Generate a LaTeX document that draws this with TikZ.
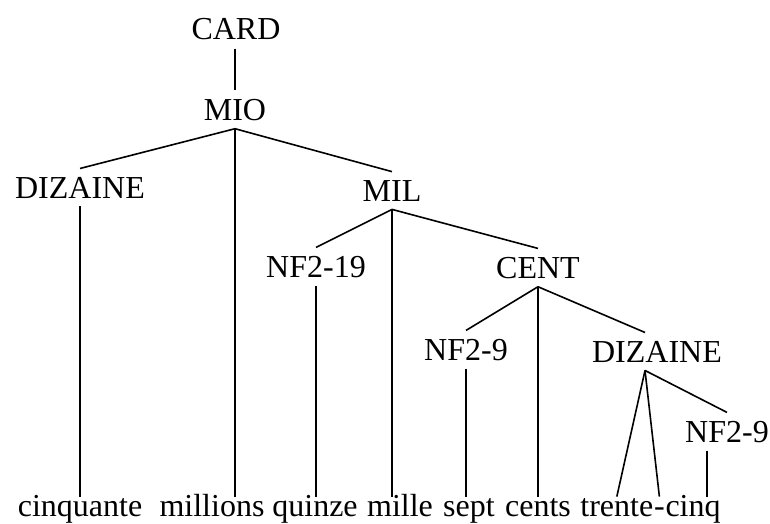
\documentclass[tikz,border=0pt]{standalone}
\usepackage{fontspec}
\setmainfont{Liberation Serif}
\usetikzlibrary{positioning,calc}

\begin{document}
\begin{tikzpicture}[
  x=0.5pt, y=-0.5pt,
  font=\fontsize{16}{19}\selectfont,
  cat/.style={anchor=base, inner sep=4pt},
  word/.style={anchor=base, inner xsep=0pt, inner ysep=2.5pt,
               text height=0.7em, text depth=0.22em},
  branch/.style={line width=0.8pt},
]
\useasboundingbox (0,0) rectangle (770,524);

% --- categories ---
\node[cat] (card) at (236,40)  {CARD};
\node[cat] (mio)  at (235,120) {MIO};
\node[cat] (dizA) at (80,198)  {DIZAINE};
\node[cat] (mil)  at (392,201) {MIL};
\node[cat] (nfA)  at (316,277) {NF2-19};
\node[cat] (cent) at (538,278) {CENT};
\node[cat] (nfB)  at (466,360) {NF2-9};
\node[cat] (dizB) at (657,362) {DIZAINE};
\node[cat] (nfC)  at (727,442) {NF2-9};

% --- words of the number ---
\node[word] (cinquante) at (80,516)  {cinquante};
\node[word] (millions)  at (212,516) {millions};
\node[word] (quinze)    at (315,516) {quinze};
\node[word] (mille)     at (400,516) {mille};
\node[word] (sept)      at (469,516) {sept};
\node[word] (cents)     at (538,516) {cents};
\node[word, anchor=base west] (trente) at (580,516) {trente};
\node[word, anchor=base west] (hyph) at (trente.base east) {-};
\node[word, anchor=base west] (cinq) at (hyph.base east) {cinq};

% --- branches ---
\draw[branch] (mio.north |- card.south) -- (mio.north);
\draw[branch] (mio.south) -- (dizA.north);
\draw[branch] (mio.south) -- (mio.south |- millions.north);
\draw[branch] (mio.south) -- (mil.north);
\draw[branch] (dizA.south) -- (dizA.south |- cinquante.north);
\draw[branch] (mil.south) -- (nfA.north);
\draw[branch] (mil.south) -- (mil.south |- mille.north);
\draw[branch] (mil.south) -- (cent.north);
\draw[branch] (nfA.south) -- (nfA.south |- quinze.north);
\draw[branch] (cent.south) -- (nfB.north);
\draw[branch] (cent.south) -- (cent.south |- cents.north);
\draw[branch] (cent.south) -- ([xshift=-6pt]dizB.north);
\draw[branch] (nfB.south) -- (nfB.south |- sept.north);
\coordinate (dizBfoot) at ([xshift=-6pt]dizB.south);
\draw[branch] (dizBfoot) -- (trente.north);
\draw[branch] (dizBfoot) -- (hyph.north);
\draw[branch] (dizBfoot) -- (nfC.north);
\coordinate (cinqtop) at ([xshift=7pt]cinq.north);
\draw[branch] (cinqtop |- nfC.south) -- (cinqtop);
\end{tikzpicture}
\end{document}
